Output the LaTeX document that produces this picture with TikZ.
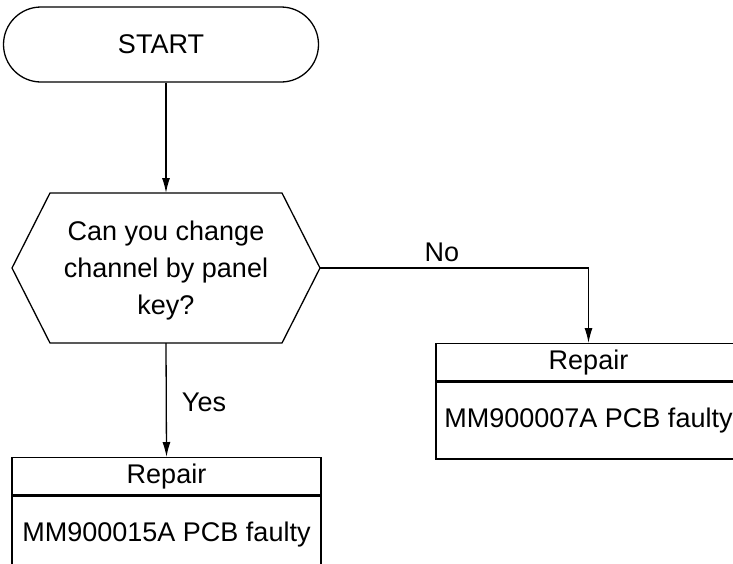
\documentclass[tikz,border=0pt]{standalone}
\usepackage{fontspec}
\setmainfont{Liberation Sans}
\usetikzlibrary{arrows.meta,shapes.misc}
\begin{document}
\begin{tikzpicture}[x=1pt,y=-1pt,
  every node/.style={font=\fontsize{27}{37}\selectfont},
  line/.style={draw=black, line width=1.3pt},
  arr/.style={line, -{Latex[length=15pt,width=8pt]}},
  term/.style={rounded rectangle, draw, line width=1.3pt, minimum width=315pt, minimum height=75pt, inner sep=0pt},
  head/.style={rectangle, draw, line width=1.3pt, minimum width=#1, minimum height=37pt, inner sep=0pt, anchor=north},
  body/.style={rectangle, draw, line width=1.3pt, minimum width=#1, minimum height=77pt, inner sep=0pt, anchor=north},
  lbl/.style={inner sep=0pt}
]
\useasboundingbox (0,0) rectangle (733,563);
\clip (0,0) rectangle (733,563);
% start
\node[term] (start) at (161,44.5) {START};
% decision hexagon
\coordinate (qt) at (166,193);
\coordinate (qb) at (166,343);
\coordinate (qr) at (320,268);
\coordinate (ql) at (12,268);
\draw[line] (ql) -- (50,193) -- (282,193) -- (qr) -- (282,343) -- (50,343) -- cycle;
\node[align=center, inner sep=0pt] (q) at (166,271) {Can you change\\channel by panel\\key?};
% boxes
\node[head=305pt] (rh) at (588.5,343) {Repair};
\node[body=305pt] (rb) at (rh.south) {MM900007A PCB faulty};
\node[head=309pt] (lh) at (166.5,457) {Repair};
\node[body=309pt] (lb) at (lh.south) {MM900015A PCB faulty};
% connectors
\draw[arr] (start.south -| qt) -- (qt);
\draw[arr] (qb) -- (lh.north);
\draw[arr] (qr) -| (rh.north);
\node[lbl] (no) at (442,252) {No};
\node[lbl] (yes) at (204,402) {Yes};
\end{tikzpicture}
\end{document}
